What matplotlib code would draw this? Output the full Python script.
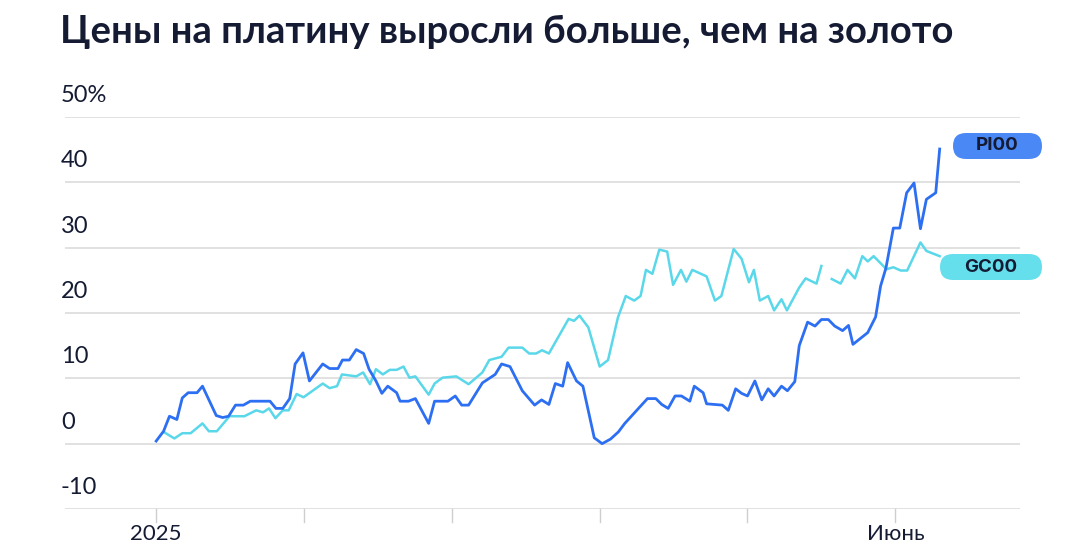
import numpy as np
import matplotlib
matplotlib.use("Agg")
import matplotlib.pyplot as plt
from matplotlib.patches import FancyBboxPatch

title = "Цены на платину выросли больше, чем на золото"
y_ticks = [50, 40, 30, 20, 10, 0, -10]
y_tick_labels = ["50%", "40", "30", "20", "10", "0", "-10"]
month_days = [0, 30, 60, 90, 120, 150]
month_labels = ["2025", "", "", "", "", "Июнь"]

# day of year (from 1 Jan 2025), % change
pl_days = [0, 1.5, 2.7, 4.2, 5.3, 6.5, 8.3, 9.4, 12.2, 13.5, 14.7, 16.1, 17.7, 19.1, 23.1, 24.3, 25.7, 27.1,
           28.2, 29.8, 31.1, 33.8, 35.2, 36.9, 37.8, 39.2, 40.6, 42.1, 43.2, 44.6, 45.8, 47.0, 48.8, 49.5,
           51.2, 52.6, 55.3, 56.5, 59.2, 60.7, 62.0, 63.4, 66.2, 68.8, 70.1, 71.8, 74.3, 76.8, 78.2, 79.7,
           81.0, 82.5, 83.5, 85.3, 86.6, 88.9, 90.5, 92.2, 93.8, 95.1, 99.7, 101.4, 102.6, 103.9, 105.3,
           106.6, 108.3, 109.2, 111.0, 111.7, 114.9, 116.1, 117.6, 118.8, 120.0, 121.5, 122.9, 124.2,
           125.4, 126.9, 128.1, 129.6, 130.5, 132.2, 133.7, 135.0, 136.4, 137.7, 139.3, 140.5, 141.4,
           144.4, 146.0, 147.0, 148.1, 149.6, 150.9, 152.3, 153.8, 155.1, 156.3, 158.2, 159.0]
pl_vals = [0.4, 1.9, 4.2, 3.7, 7.0, 7.8, 7.8, 8.8, 4.3, 4.0, 4.2, 5.9, 5.9, 6.5, 6.5, 5.4, 5.4, 6.9,
           12.2, 13.9, 9.6, 12.2, 11.5, 11.5, 12.8, 12.8, 14.4, 13.8, 11.4, 9.6, 7.7, 8.8, 7.8, 6.5,
           6.5, 6.9, 3.1, 6.5, 6.5, 7.3, 5.9, 5.9, 9.3, 10.6, 12.2, 11.8, 8.1, 5.9, 6.7, 6.0,
           9.2, 8.8, 12.4, 9.6, 8.8, 0.9, 0.0, 0.7, 1.8, 3.1, 6.9, 6.9, 6.0, 5.4, 7.3,
           7.3, 6.5, 8.8, 7.8, 6.1, 5.9, 5.1, 8.4, 7.7, 7.3, 9.6, 6.7, 8.4,
           7.3, 8.8, 8.1, 9.5, 15.0, 18.6, 18.0, 19.0, 19.0, 18.0, 17.3, 18.1, 15.2,
           17.0, 19.4, 24.1, 26.9, 33.0, 33.0, 38.4, 39.9, 32.9, 37.4, 38.4, 45.1]

au_days = [1.5, 3.7, 5.3, 7.0, 9.4, 10.7, 12.3, 14.9, 17.9, 20.3, 21.7, 22.9, 24.2, 25.7, 26.9, 28.5,
           29.9, 33.8, 35.2, 36.7, 37.7, 40.6, 42.0, 43.4, 44.6, 46.0, 47.4, 48.8, 50.2, 51.4, 52.6,
           55.3, 56.5, 58.1, 60.9, 63.4, 64.8, 66.2, 67.6, 70.1, 71.5, 74.3, 75.7, 77.1, 78.3, 79.7,
           83.7, 84.8, 85.9, 87.7, 90.0, 91.7, 93.7, 95.3, 97.0, 98.3, 99.4, 100.7, 102.1, 103.7,
           104.9, 106.5, 107.6, 108.8, 111.7, 113.4, 114.7, 117.2, 118.8, 120.3, 121.3, 122.5, 124.2,
           125.4, 126.9, 128.0, 130.5, 131.8, 134.0, 135.0, 136.0, 137.1, 138.9, 140.3, 141.8, 143.3,
           144.4, 145.6, 148.2, 149.6, 151.1, 152.4, 155.1, 156.3, 159.0]
au_vals = [1.8, 0.8, 1.6, 1.6, 3.1, 1.9, 1.9, 4.2, 4.2, 5.1, 4.8, 5.4, 3.9, 5.1, 5.1, 7.6,
           7.1, 9.2, 8.5, 8.8, 10.6, 10.3, 10.9, 9.1, 11.4, 10.6, 11.3, 11.3, 11.8, 10.1, 10.3,
           7.5, 9.2, 10.1, 10.3, 9.1, 10.0, 10.9, 12.8, 13.3, 14.7, 14.7, 13.8, 13.8, 14.3, 13.8,
           19.1, 18.8, 19.6, 17.8, 11.8, 12.8, 19.3, 22.6, 21.9, 22.6, 26.6, 26.0, 29.7, 29.4,
           24.3, 26.6, 24.8, 26.6, 25.6, 21.9, 22.6, 29.8, 28.3, 24.7, 26.6, 21.9, 22.6,
           20.4, 22.1, 20.4, 23.9, 25.3, 24.5, 27.2, np.nan, 25.2, 24.5, 26.6, 25.3, 28.7,
           27.9, 28.7, 26.7, 27.0, 26.5, 26.5, 30.8, 29.5, 28.7]

text_c = "#141b33"
blue = "#2d6ff2"
cyan = "#5ad8ea"

fig = plt.figure(figsize=(10.8, 5.4), dpi=100)
ax = fig.add_axes([65/1080, 1-509/540, (1020-65)/1080, (509-117)/540])
ax.set_xlim(-18.5, 175.3)
ax.set_ylim(-10, 50)
for s in ax.spines.values():
    s.set_visible(False)
ax.set_xticks([]); ax.set_yticks([])
for yv, lab in zip(y_ticks, y_tick_labels):
    ax.axhline(yv, color="#dcdcdc", lw=1.2, zorder=0)
    ax.annotate(lab, (0, yv), xycoords=("axes fraction", "data"), xytext=(-3, 8),
                textcoords="offset points", fontsize=17, color=text_c, va="bottom", ha="left",
                family="Lato")
for d, lab in zip(month_days, month_labels):
    ax.plot([d, d], [-10, -12], color="#cfcfcf", lw=1, clip_on=False)
    if lab:
        ax.annotate(lab, (d, -10), xytext=(0, -11), textcoords="offset points",
                    fontsize=16, color=text_c, ha="center", va="top", family="Lato")

ax.plot(au_days, au_vals, color=cyan, lw=1.8)
ax.plot(pl_days, pl_vals, color=blue, lw=2.0)

fig.text(60/1080, 1-32/540, title, fontsize=27.5, fontweight="bold", color=text_c,
         va="center", ha="left", family="Lato")

def pill(x0, x1, ycen, color, label):
    p = FancyBboxPatch(((x0 + 13)/100, (540 - ycen)/100), (x1 - x0 - 26)/100, 0,
                       boxstyle="round,pad=0.13,rounding_size=0.13", transform=fig.dpi_scale_trans,
                       facecolor=color, edgecolor="none")
    fig.patches.append(p)
    fig.text((x0 + x1)/2/1080, 1 - ycen/540, label, fontsize=13.5, fontweight="bold",
             color=text_c, ha="center", va="center", family="Inter")

pill(953, 1042, 146, "#4a88f5", "PI00")
pill(940, 1042, 267, "#66dfec", "GC00")

fig.savefig("out.png", dpi=100)
